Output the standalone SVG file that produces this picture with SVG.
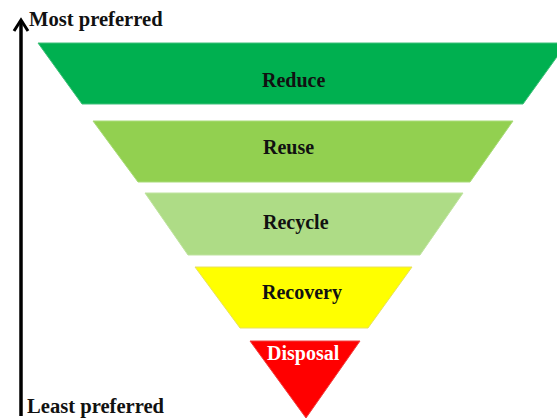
<svg xmlns="http://www.w3.org/2000/svg" width="557" height="419" viewBox="0 0 557 419">
  <style>
    .tier { stroke-width: 1; stroke-linejoin: miter; }
    .lbl { font-family: "Liberation Serif", "Times New Roman", serif; font-weight: bold; font-size: 20px; fill: #111; }
    .axis { font-family: "Liberation Serif", "Times New Roman", serif; font-weight: bold; font-size: 20.6px; fill: #111; }
  </style>
  <rect width="557" height="419" fill="#ffffff"/>

  <!-- Waste hierarchy tiers, widest (most preferred) at the top -->
  <g id="reduce">
    <polygon class="tier" points="38,43 567,43 523,104 82,104" fill="#00B050" stroke="#3fc07a"/>
    <text class="lbl" x="262" y="87">Reduce</text>
  </g>
  <g id="reuse">
    <polygon class="tier" points="93,121 513,121 470,182 138,182" fill="#92D050" stroke="#a9db78"/>
    <text class="lbl" x="263" y="154">Reuse</text>
  </g>
  <g id="recycle">
    <polygon class="tier" points="145,193 463,193 420,255 188,255" fill="#AEDC86" stroke="#bfe39f"/>
    <text class="lbl" x="263" y="229">Recycle</text>
  </g>
  <g id="recovery">
    <polygon class="tier" points="195,267 412,267 368,328 240,328" fill="#FFFF00" stroke="#e8e060"/>
    <text class="lbl" x="262" y="299">Recovery</text>
  </g>
  <g id="disposal">
    <polygon class="tier" points="250,341 360,341 306,418" fill="#FF0000" stroke="#f04040"/>
    <text class="lbl" x="267" y="360" style="fill:#ffffff">Disposal</text>
  </g>

  <!-- Preference axis -->
  <g id="connectors">
    <line x1="21" y1="416" x2="21" y2="21" stroke="#000" stroke-width="3.5"/>
    <polyline points="14,31 21,20 28,31" fill="none" stroke="#000" stroke-width="3"/>
  </g>
  <g id="axis-labels">
    <text class="axis" x="29" y="26">Most preferred</text>
    <text class="axis" x="27" y="413">Least preferred</text>
  </g>
</svg>
